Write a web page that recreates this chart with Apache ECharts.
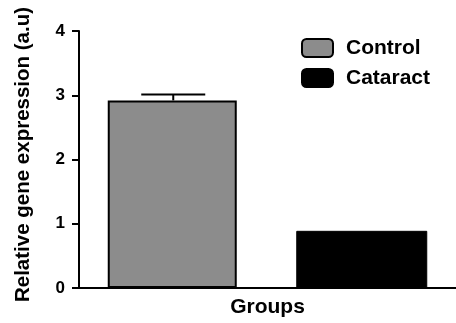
<!DOCTYPE html>
<html>
<head>
<meta charset="utf-8">
<script src="https://cdn.jsdelivr.net/npm/echarts@6/dist/echarts.min.js"></script>
<style>html,body{margin:0;padding:0;background:#fff;}#c{width:456px;height:323px;}</style>
</head>
<body>
<div id="c"></div>
<script>
var categories = ['Control', 'Cataract'];
var controlValues = [2.92, '-'];
var cataractValues = ['-', 0.89];
var errorValues = [0.09, 0];
var meanValues = [2.92, 0.89];
var yTicks = [0, 1, 2, 3, 4];

var chart = echarts.init(document.getElementById('c'), null, {renderer: 'canvas'});
var font = '"Liberation Sans", Arial, sans-serif';
chart.setOption({
  animation: false,
  backgroundColor: '#ffffff',
  grid: {left: 79, top: 31, bottom: 33, right: -7, containLabel: false},
  legend: {
    data: ['Control', 'Cataract'],
    orient: 'vertical',
    left: 301, top: 37.5, padding: 0,
    itemWidth: 31, itemHeight: 18, itemGap: 9,
    textStyle: {fontFamily: font, fontWeight: 'bold', fontSize: 21, color: '#000', padding: [0,0,0,8]}
  },
  xAxis: {
    type: 'category',
    data: categories,
    name: 'Groups',
    nameLocation: 'middle',
    nameGap: 9,
    nameTextStyle: {fontFamily: font, fontWeight: 'bold', fontSize: 21, color: '#000', verticalAlign: 'top'},
    axisLine: {lineStyle: {color: '#000', width: 2}},
    axisTick: {show: false},
    axisLabel: {show: false},
    splitLine: {show: false}
  },
  yAxis: {
    type: 'value',
    min: yTicks[0], max: yTicks[yTicks.length - 1], interval: 1,
    name: 'Relative gene expression (a.u)',
    nameLocation: 'middle',
    nameGap: 45,
    nameTextStyle: {fontFamily: font, fontWeight: 'bold', fontSize: 20.5, color: '#000', padding: [0, 0, 0, 10]},
    axisLine: {show: true, lineStyle: {color: '#000', width: 2}},
    axisTick: {show: true, inside: false, length: 7, lineStyle: {color: '#000', width: 2}},
    axisLabel: {fontFamily: font, fontWeight: 'bold', fontSize: 17, color: '#000', margin: 14},
    splitLine: {show: false}
  },
  series: [
    {
      name: 'Control', type: 'bar', data: controlValues,
      barWidth: 129, barGap: '-100%',
      itemStyle: {color: '#8c8c8c', borderColor: '#000', borderWidth: 2}
    },
    {
      name: 'Cataract', type: 'bar', data: cataractValues,
      barWidth: 131, barGap: '-100%',
      itemStyle: {color: '#000', borderColor: '#000', borderWidth: 1}
    },
    {
      name: 'err', type: 'custom',
      data: meanValues.map(function (v, i) { return [i, v, errorValues[i]]; }),
      z: 1,
      renderItem: function (params, api) {
        var e = api.value(2);
        if (!e) return null;
        var x = api.value(0), m = api.value(1);
        var pTop = api.coord([x, m + e]);
        var pBase = api.coord([x, m]);
        var half = 32;
        var st = {stroke: '#000', lineWidth: 2};
        return {
          type: 'group',
          children: [
            {type: 'line', shape: {x1: pTop[0], y1: pTop[1], x2: pBase[0], y2: pBase[1]}, style: st},
            {type: 'line', shape: {x1: pTop[0] - half, y1: pTop[1], x2: pTop[0] + half, y2: pTop[1]}, style: st}
          ]
        };
      }
    }
  ]
});
</script>
</body>
</html>
